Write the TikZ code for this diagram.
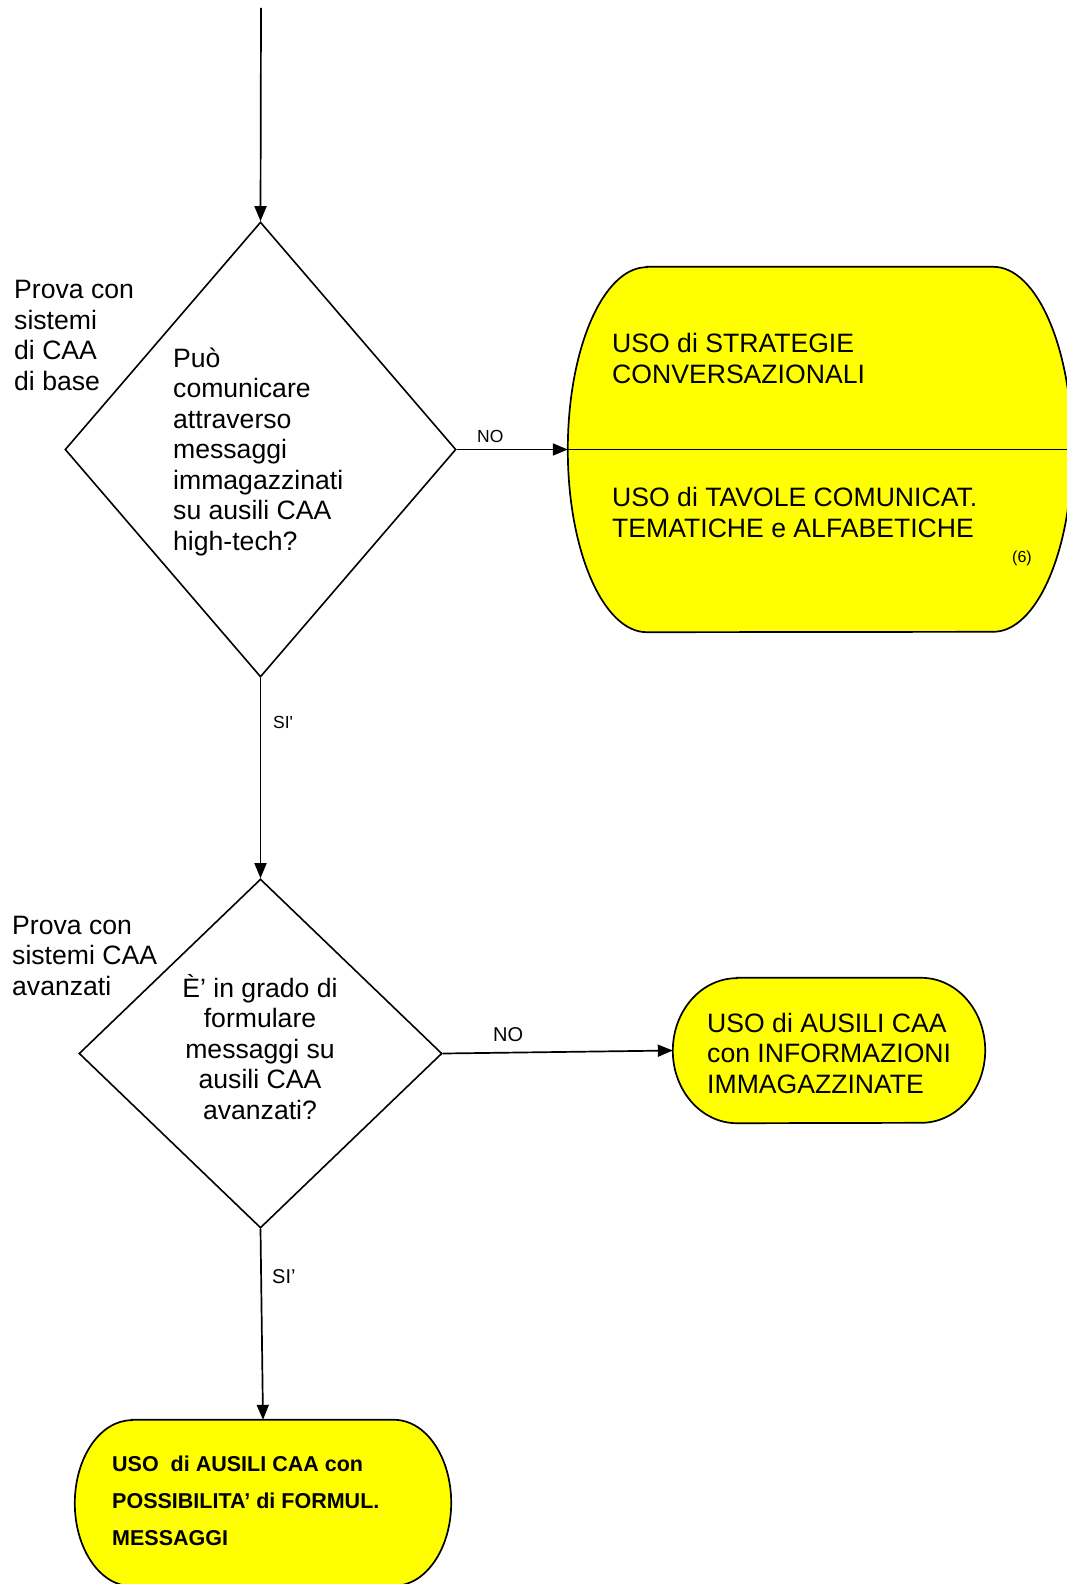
\documentclass[tikz,border=0pt]{standalone}
\usepackage{fontspec}
\setmainfont{Liberation Sans}
\usetikzlibrary{shapes.geometric,arrows.meta,calc}
\definecolor{yel}{RGB}{255,255,0}
\newcommand\stadiumpath[3]{%
  \path[term] ($(#1.north west)+(#2,0)$) -- ($(#1.north east)+(-#2,0)$)
    arc[start angle=90,end angle=-90,x radius=#2,y radius=#3]
    -- ($(#1.south west)+(#2,0)$)
    arc[start angle=270,end angle=90,x radius=#2,y radius=#3] -- cycle;}
\begin{document}
\begin{tikzpicture}[x=1pt,y=1pt,
  conn/.style={line width=1.7pt,-{Triangle[length=15pt,width=12pt]}},
  dec/.style={draw, line width=1.6pt, shape=diamond, inner sep=0pt},
  frame/.style={draw=none, inner sep=0pt, shape=rectangle},
  term/.style={fill=yel, draw=black, line width=1.7pt},
  big/.style={font=\fontsize{26.6}{30.5}\selectfont, inner sep=0pt, align=left},
  smallA/.style={font=\fontsize{17.5}{20}\selectfont, inner sep=0pt},
  smallB/.style={font=\fontsize{20}{24}\selectfont, inner sep=0pt},
  boldtxt/.style={font=\fontsize{21.5}{36.7}\selectfont\bfseries, inner sep=0pt, align=left}
]
\useasboundingbox (0,0) rectangle (1066,-1584);

% shapes
\coordinate (start) at (261,-8);
\node[dec, minimum width=391pt, minimum height=455pt] (d1) at (260.5,-449.5) {};
\node[dec, minimum width=363pt, minimum height=349pt] (d2) at (260.5,-1053.5) {};
\node[frame, minimum width=504pt, minimum height=365pt] (b1) at (820,-449.5) {};
\node[frame, minimum width=312pt, minimum height=145pt] (b2) at (829,-1050.5) {};
\node[frame, minimum width=376pt, minimum height=166pt] (b3) at (263,-1503) {};

\stadiumpath{b1}{79pt}{182.5pt}
\stadiumpath{b2}{64pt}{72.5pt}
\stadiumpath{b3}{57pt}{83pt}
\draw[line width=1.7pt] (b1.west) -- (b1.east);

% connectors
\draw[conn] (start) -- (d1.north);
\draw[conn] (d1.east) -- (b1.west);
\draw[conn] (d1.south) -- (d2.north);
\draw[conn] (d2.east) -- (b2.west);
\draw[conn] (d2.south) -- (b3.north);

% texts (base anchor = baseline of last line)
\node[big, anchor=base west] (t1) at (173,-550) {Può\\comunicare\\attraverso\\messaggi\\immagazzinati\\su ausili CAA\\high-tech?};
\node[big, anchor=base west] (p1) at (14,-390) {Prova con\\sistemi\\di CAA\\di base};
\node[smallA, anchor=base west] (no1) at (477,-442) {NO};
\node[big, anchor=base west] (t2a) at (612,-383) {USO di STRATEGIE\\CONVERSAZIONALI};
\node[big, anchor=base west] (t2b) at (612,-537) {USO di TAVOLE COMUNICAT.\\TEMATICHE e ALFABETICHE};
\node[font=\fontsize{16}{19}\selectfont, inner sep=0pt, anchor=base west] (n6) at (1012,-562) {(6)};
\node[smallA, anchor=base west] (si1) at (273,-728) {SI\textquotesingle};
\node[big, align=center, anchor=base] (t3) at (260,-1119) {È’ in grado di\\formulare\\messaggi su\\ausili CAA\\avanzati?};
\node[big, anchor=base west] (p2) at (12,-995) {Prova con\\sistemi CAA\\avanzati};
\node[smallB, anchor=base west] (no2) at (493,-1041) {NO};
\node[big, anchor=base west] (t4) at (707,-1093) {USO di AUSILI CAA\\con INFORMAZIONI\\IMMAGAZZINATE};
\node[smallB, anchor=base west] (si2) at (272,-1283) {SI’};
\node[boldtxt, anchor=base west] (t5) at (112,-1545) {USO\ \ di AUSILI CAA con\\POSSIBILITA’ di FORMUL.\\MESSAGGI};
\end{tikzpicture}
\end{document}
